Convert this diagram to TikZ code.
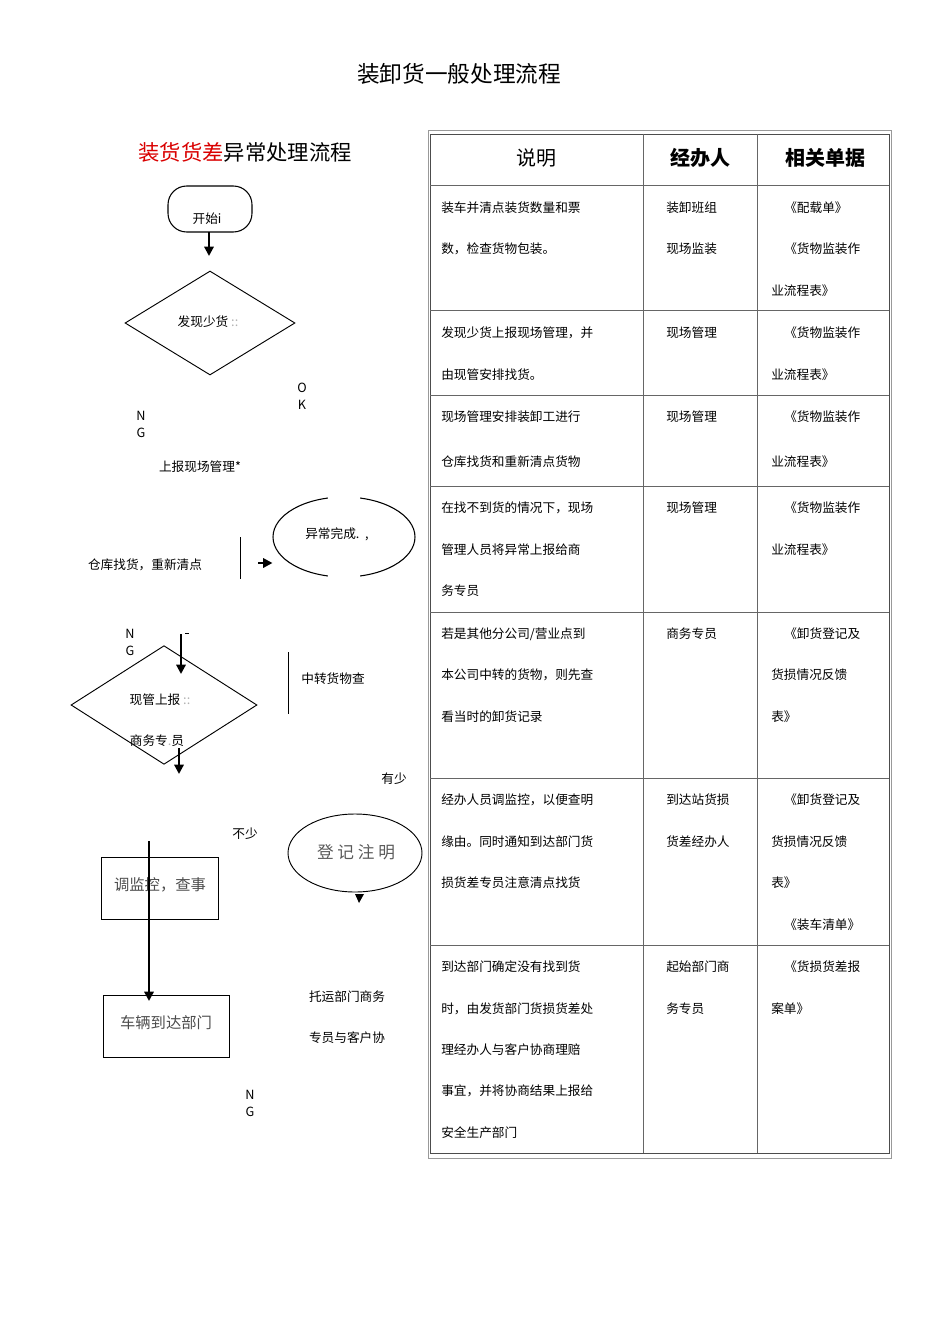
\documentclass[tikz,border=0pt]{standalone}
\usepackage{fontspec}
\setmainfont{Noto Sans CJK SC}
\usetikzlibrary{shapes.geometric,arrows.meta}
\begin{document}
\begin{tikzpicture}[x=0.75pt,y=-0.75pt,
  txt/.style={font=\fontsize{9.5pt}{11pt}\selectfont,inner sep=0pt},
  cell/.style={font=\fontsize{9.5pt}{11pt}\selectfont,inner sep=0pt,anchor=west},
  hdr/.style={font=\fontsize{15pt}{17pt}\selectfont,inner sep=0pt},
  big/.style={font=\fontsize{11.5pt}{13pt}\selectfont,inner sep=0pt,text=black!70},
  arr/.style={line width=1.6pt,-{Triangle[length=7pt,width=7pt]}},
  box/.style={draw,line width=0.7pt}]
\useasboundingbox (0,0) rectangle (950,1344);
\node[font=\fontsize{17pt}{19pt}\selectfont] (title) at (459,74) {装卸货一般处理流程};
\node[font=\fontsize{16pt}{18pt}\selectfont] (sub) at (245,152) {\textcolor{red!85!black}{装货货差}异常处理流程};
% table
\draw[black!40] (428,130) rectangle (891,1158);
\draw[black!70] (430,134) rectangle (889,1153);
\foreach \y in {185,310,395,486,612,778,945} \draw[black!60] (430,\y) -- (889,\y);
\foreach \x in {643,757} \draw[black!60] (\x,134) -- (\x,1153);
\node[hdr] (h1) at (536,158) {说明};
\node[hdr,font=\fontsize{15pt}{17pt}\selectfont\bfseries] (h2) at (700,158) {经办人};
\node[hdr,font=\fontsize{15pt}{17pt}\selectfont\bfseries] (h3) at (825,158) {相关单据};
\foreach \t/\x/\y in {装车并清点装货数量和票/441/208, 数，检查货物包装。/441/249, 装卸班组/666/208, 现场监装/666/249, 《配载单》/784/208, 《货物监装作/784/249, 业流程表》/771/291,
 发现少货上报现场管理，并/441/333, 由现管安排找货。/441/375, 现场管理/666/333, 《货物监装作/784/333, 业流程表》/771/375,
 现场管理安排装卸工进行/441/417, 仓库找货和重新清点货物/441/462, 现场管理/666/417, 《货物监装作/784/417, 业流程表》/771/462,
 在找不到货的情况下，现场/441/508, 管理人员将异常上报给商/441/550, 务专员/441/591, 现场管理/666/508, 《货物监装作/784/508, 业流程表》/771/550,
 本公司中转的货物，则先查/441/675, 看当时的卸货记录/441/717, 商务专员/666/634, 《卸货登记及/784/634, 货损情况反馈/771/675, 表》/771/717,
 经办人员调监控，以便查明/441/800, 缘由。同时通知到达部门货/441/842, 损货差专员注意清点找货/441/883, 到达站货损/666/800, 货差经办人/666/842, 《卸货登记及/784/800, 货损情况反馈/771/842, 表》/771/883, 《装车清单》/784/925,
 到达部门确定没有找到货/441/967, 时，由发货部门货损货差处/441/1009, 理经办人与客户协商理赔/441/1050, 事宜，并将协商结果上报给/441/1091, 安全生产部门/441/1133, 起始部门商/666/967, 务专员/666/1009, 《货损货差报/784/967, 案单》/771/1009}
  \node[cell] at (\x,\y) {\t};
\node[cell] (r5) at (441,634) {若是其他分公司/营业点到};
% flowchart
\draw[line width=0.8pt,rounded corners=14pt] (168,186) rectangle (252,232);
\node[txt] at (207,219) {开始i};
\coordinate (a1) at (209,232);
\node[box,diamond,minimum width=127.5pt,minimum height=78pt,inner sep=0pt,aspect=1.63] (d1) at (210,323) {};
\node[txt] at (208,322) {发现少货 \textcolor{black!30}{::}};
\draw[arr] (a1) -- (209,256);
\node[txt] (o) at (302,388) {O};
\node[txt] (k) at (302,405) {K};
\node[txt] (n1) at (141,416) {N};
\node[txt] (g1) at (141,433) {G};
\node[txt] (rep) at (200,467) {上报现场管理*};
% ellipse with gaps
\node[draw,ellipse,line width=0.8pt,minimum width=106.5pt,minimum height=60pt,inner sep=0pt] (done) at (344,537) {};
\fill[white] (328,494) rectangle (360,501);
\fill[white] (328,573) rectangle (360,580);
\node[txt] at (337,534) {异常完成.\ \ ,};
\node[txt] (wh) at (145,565) {仓库找货，重新清点};
\draw (240,537) -- (240,579);
\coordinate (w1) at (258,563);
\draw[arr] (w1) -- (done.west |- w1);
\node[txt] (n2) at (130,634) {N};
\node[txt] (g2) at (130,651) {G};
\node[box,diamond,minimum width=139.5pt,minimum height=89pt,inner sep=0pt,aspect=1.57] (d2) at (164,705) {};
\draw[line width=0.6pt] (185,633) -- (189,633);
\coordinate (t1) at (181,634);
\draw[arr] (t1) -- (181,674);
\node[txt] at (160,700) {现管上报 \textcolor{black!30}{::}};
\node[txt] at (157,741) {商务专\textcolor{black!30}{.}员};
\coordinate (t2) at (179,748);
\draw[arr] (t2) -- (179,774);
\draw (288,652) -- (288,714);
\node[txt] (zz) at (333,679) {中转货物查};
\node[txt] (ys) at (394,779) {有少};
\node[txt] (bs) at (245,834) {不少};
\node[draw,ellipse,line width=0.7pt,minimum width=100.5pt,minimum height=58.5pt,inner sep=0pt] (reg) at (355,853) {};
\node[big,font=\fontsize{12.5pt}{14pt}\selectfont,text=black!65] at (356,852) {登 记 注 明};
\fill (355,894) -- (364,894) -- (359,903) -- cycle;
\node[box,minimum width=87.75pt,minimum height=46.5pt] (mon) at (159.5,888) {};
\node[big] at (160,885) {调监控，查事};
\node[box,minimum width=94.5pt,minimum height=46.5pt] (veh) at (166,1026) {};
\node[big] at (166,1023) {车辆到达部门};
\coordinate (l1) at (149,841);
\draw[arr] (l1) -- (149,1001);
\node[txt] (ty) at (347,997) {托运部门商务};
\node[txt] (zy) at (347,1038) {专员与客户协};
\node[txt] (n3) at (250,1095) {N};
\node[txt] (g3) at (250,1112) {G};
\end{tikzpicture}
\end{document}
